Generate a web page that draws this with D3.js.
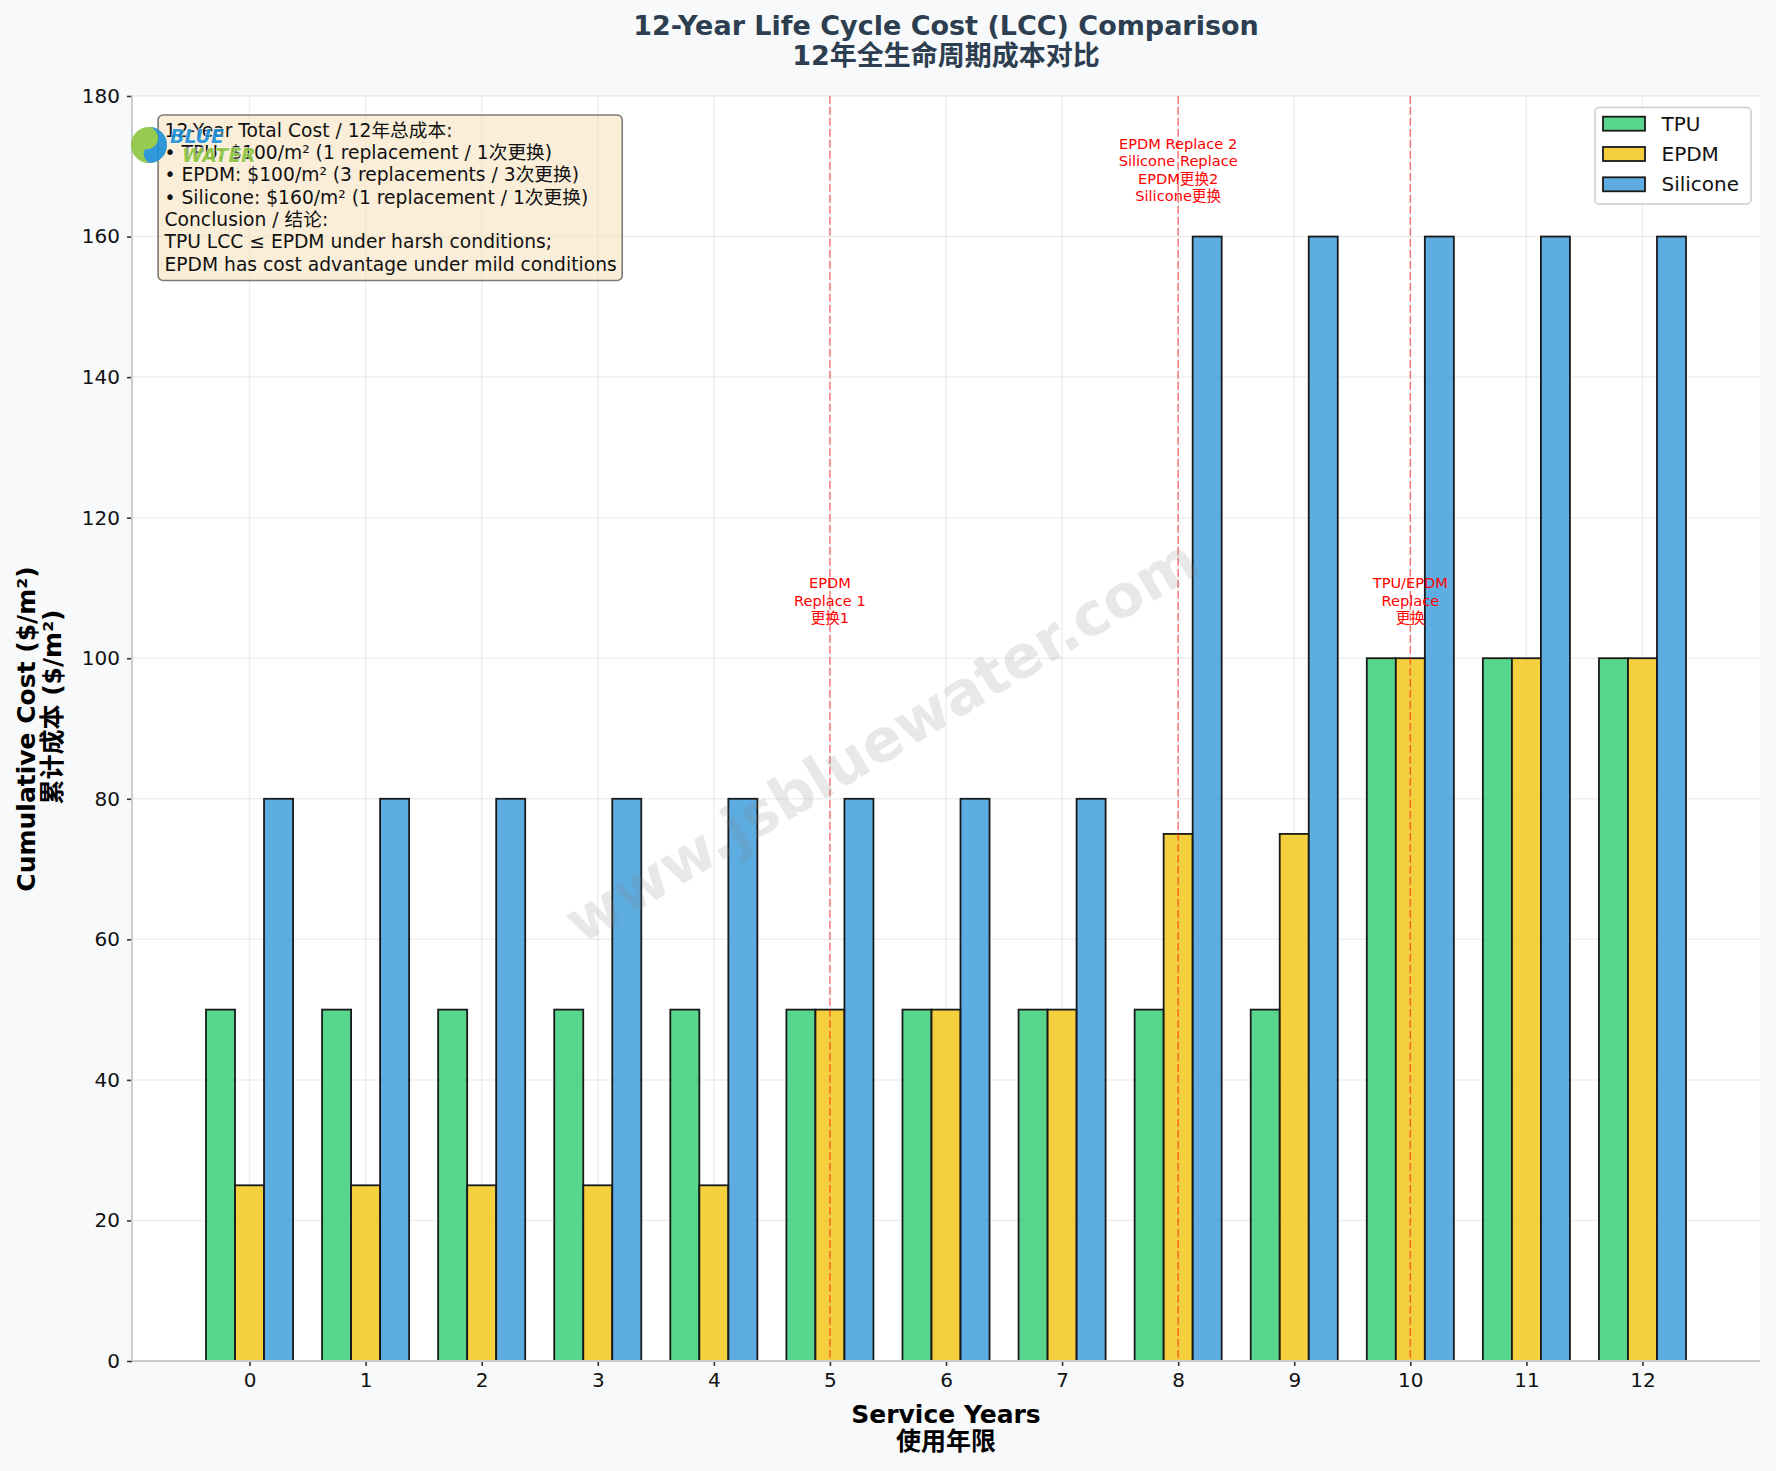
<!DOCTYPE html>
<html>
<head>
<meta charset="utf-8">
<script src="https://cdn.jsdelivr.net/npm/d3@7"></script>
<style>
  html, body { margin: 0; padding: 0; background: #f8f9fa; }
  svg { display: block; }
  text { font-family: "DejaVu Sans", "Noto Sans CJK SC", sans-serif; }
</style>
</head>
<body>
<div id="chart"></div>
<script>
// ---------------- data ----------------
const years = [0, 1, 2, 3, 4, 5, 6, 7, 8, 9, 10, 11, 12];
const seriesNames = ["TPU", "EPDM", "Silicone"];
const tpuCost = [50, 50, 50, 50, 50, 50, 50, 50, 50, 50, 100, 100, 100];
const epdmCost = [25, 25, 25, 25, 25, 50, 50, 50, 75, 75, 100, 100, 100];
const siliconeCost = [80, 80, 80, 80, 80, 80, 80, 80, 160, 160, 160, 160, 160];
const yTicks = [0, 20, 40, 60, 80, 100, 120, 140, 160, 180];
const replaceYears = [5, 8, 10];
const replaceLabelY = [108.2, 169.5, 108.2];
const replaceLabels = [
  ["EPDM", "Replace 1", "更换1"],
  ["EPDM Replace 2", "Silicone Replace", "EPDM更换2", "Silicone更换"],
  ["TPU/EPDM", "Replace", "更换"]
];
const summaryLines = [
  "12-Year Total Cost / 12年总成本:",
  "• TPU: $100/m² (1 replacement / 1次更换)",
  "• EPDM: $100/m² (3 replacements / 3次更换)",
  "• Silicone: $160/m² (1 replacement / 1次更换)",
  "Conclusion / 结论:",
  "TPU LCC ≤ EPDM under harsh conditions;",
  "EPDM has cost advantage under mild conditions"
];
const titleLines = ["12-Year Life Cycle Cost (LCC) Comparison", "12年全生命周期成本对比"];
const xLabelLines = ["Service Years", "使用年限"];
const yLabelLines = ["Cumulative Cost ($/m²)", "累计成本 ($/m²)"];

// ---------------- layout ----------------
const W = 1776, H = 1471;
const plot = { left: 132, right: 1760, top: 96, bottom: 1361 };
const colors = { TPU: "#2ecc71", EPDM: "#f1c40f", Silicone: "#3498db" };
const seriesValues = { TPU: tpuCost, EPDM: epdmCost, Silicone: siliconeCost };
const barW = 0.25;

const svg = d3.select("#chart").append("svg")
  .attr("width", W).attr("height", H)
  .attr("viewBox", `0 0 ${W} ${H}`);

svg.append("rect").attr("width", W).attr("height", H).attr("fill", "#f8f9fa");

const x = d3.scaleLinear().domain([-1.0125, 13.0125]).range([plot.left, plot.right]);
const y = d3.scaleLinear().domain([0, 180]).range([plot.bottom, plot.top]);

// axes background
svg.append("rect")
  .attr("x", plot.left).attr("y", plot.top)
  .attr("width", plot.right - plot.left).attr("height", plot.bottom - plot.top)
  .attr("fill", "#ffffff");

// grid
const grid = svg.append("g");
grid.selectAll("line.gx").data(years).join("line")
  .attr("x1", d => x(d)).attr("x2", d => x(d))
  .attr("y1", plot.top).attr("y2", plot.bottom)
  .attr("stroke", "#b0b0b0").attr("stroke-opacity", 0.2).attr("stroke-width", 1.5);
grid.selectAll("line.gy").data(yTicks).join("line")
  .attr("y1", d => y(d)).attr("y2", d => y(d))
  .attr("x1", plot.left).attr("x2", plot.right)
  .attr("stroke", "#b0b0b0").attr("stroke-opacity", 0.2).attr("stroke-width", 1.5);

// bars
const offsets = { TPU: -0.25, EPDM: 0, Silicone: 0.25 };
seriesNames.forEach(name => {
  svg.append("g").selectAll("rect").data(years).join("rect")
    .attr("x", (d, i) => x(d + offsets[name] - barW / 2))
    .attr("width", x(barW) - x(0))
    .attr("y", (d, i) => y(seriesValues[name][i]))
    .attr("height", (d, i) => y(0) - y(seriesValues[name][i]))
    .attr("fill", colors[name]).attr("fill-opacity", 0.8)
    .attr("stroke", "#1a1a1a").attr("stroke-width", 1.8);
});

// replacement lines
svg.append("g").selectAll("line").data(replaceYears).join("line")
  .attr("x1", d => x(d)).attr("x2", d => x(d))
  .attr("y1", plot.top).attr("y2", plot.bottom)
  .attr("stroke", "red").attr("stroke-opacity", 0.5)
  .attr("stroke-width", 1.5).attr("stroke-dasharray", "7.7,3.3");

// replacement labels
replaceYears.forEach((yr, k) => {
  const lines = replaceLabels[k];
  const lh = 17.5;
  const cy = y(replaceLabelY[k]);
  const firstBase = cy - (lines.length - 1) * lh / 2 + 5;
  const t = svg.append("text").attr("text-anchor", "middle")
    .attr("font-size", 14.6).attr("fill", "red");
  lines.forEach((s, j) => {
    t.append("tspan").attr("x", x(yr)).attr("y", firstBase + j * lh).text(s);
  });
});

// axes
const yAxis = d3.axisLeft(y).tickValues(yTicks).tickSize(5).tickPadding(7).tickFormat(d3.format("d"));
const xAxis = d3.axisBottom(x).tickValues(years).tickSize(5).tickPadding(7).tickFormat(d3.format("d"));
const gy = svg.append("g").attr("transform", `translate(${plot.left},0)`).call(yAxis);
const gx = svg.append("g").attr("transform", `translate(0,${plot.bottom})`).call(xAxis);
[gx, gy].forEach(g => {
  g.select(".domain").remove();
  g.selectAll(".tick line").attr("stroke", "#333").attr("stroke-width", 1.6);
  g.selectAll(".tick text").attr("font-size", 20).attr("fill", "#111")
    .attr("font-family", "DejaVu Sans");
});
// spines
svg.append("line").attr("x1", plot.left).attr("x2", plot.left)
  .attr("y1", plot.top).attr("y2", plot.bottom)
  .attr("stroke", "#cccccc").attr("stroke-width", 2);
svg.append("line").attr("x1", plot.left).attr("x2", plot.right)
  .attr("y1", plot.bottom).attr("y2", plot.bottom)
  .attr("stroke", "#cccccc").attr("stroke-width", 2);

// watermark
svg.append("text")
  .attr("transform", `translate(${x(5.46)},${y(87.7)}) rotate(-31)`)
  .attr("text-anchor", "middle").attr("dominant-baseline", "middle")
  .attr("font-size", 59).attr("font-weight", "bold")
  .attr("fill", "#808080").attr("fill-opacity", 0.18)
  .text("www.jsbluewater.com");

// summary box
const boxX = plot.left + 0.02 * (plot.right - plot.left);
const firstBaseline = 136.7, sLH = 22.3;
const sText = svg.append("text").attr("font-size", 18.7).attr("fill", "#111");
summaryLines.forEach((s, j) => {
  sText.append("tspan").attr("x", boxX).attr("y", firstBaseline + j * sLH).text(s);
});
const bb = sText.node().getBBox();
svg.insert("rect", () => sText.node())
  .attr("x", bb.x - 5.5).attr("y", 115)
  .attr("width", bb.width + 11).attr("height", 280.5 - 115)
  .attr("rx", 5).attr("ry", 5)
  .attr("fill", "#f5deb3").attr("fill-opacity", 0.5)
  .attr("stroke", "#000").attr("stroke-opacity", 0.5).attr("stroke-width", 1.6);

// logo
const logo = svg.append("g").attr("opacity", 0.9);
logo.append("circle").attr("cx", 149).attr("cy", 145).attr("r", 18).attr("fill", "#8cc63f");
logo.append("path")
  .attr("d", "M149,127 A18,18 0 0 1 149,163 A10.5,10.5 0 0 1 145,149 A10.5,10.5 0 0 0 149,127 Z")
  .attr("fill", "#1b8fd8");
logo.append("text").attr("x", 170).attr("y", 143)
  .attr("font-size", 19).attr("font-weight", "bold").attr("font-style", "italic")
  .attr("fill", "#1b8fd8").attr("stroke", "#fff").attr("stroke-width", 0.8)
  .attr("paint-order", "stroke").text("BLUE");
logo.append("text").attr("x", 182).attr("y", 162)
  .attr("font-size", 19).attr("font-weight", "bold").attr("font-style", "italic")
  .attr("fill", "#8cc63f").attr("stroke", "#fff").attr("stroke-width", 0.8)
  .attr("paint-order", "stroke").text("WATER");

// legend
const lg = svg.append("g");
lg.append("rect").attr("x", 1595).attr("y", 107.5).attr("width", 156).attr("height", 96.5)
  .attr("rx", 4).attr("fill", "#ffffff").attr("fill-opacity", 0.8)
  .attr("stroke", "#cccccc").attr("stroke-width", 1.5);
seriesNames.forEach((name, i) => {
  const cy = 123.7 + i * 30.3;
  lg.append("rect").attr("x", 1603).attr("y", cy - 7).attr("width", 42).attr("height", 14)
    .attr("fill", colors[name]).attr("fill-opacity", 0.8)
    .attr("stroke", "#1a1a1a").attr("stroke-width", 1.8);
  lg.append("text").attr("x", 1661.5).attr("y", cy + 7)
    .attr("font-size", 20).attr("fill", "#111").text(name);
});

// title
const tt = svg.append("text").attr("text-anchor", "middle")
  .attr("font-size", 27).attr("font-weight", "bold").attr("fill", "#2c3e50");
tt.append("tspan").attr("x", (plot.left + plot.right) / 2).attr("y", 35).text(titleLines[0]);
tt.append("tspan").attr("x", (plot.left + plot.right) / 2).attr("y", 65).text(titleLines[1]);

// x label
const xl = svg.append("text").attr("text-anchor", "middle")
  .attr("font-size", 25).attr("font-weight", "bold").attr("fill", "#000");
xl.append("tspan").attr("x", (plot.left + plot.right) / 2).attr("y", 1423).text(xLabelLines[0]);
xl.append("tspan").attr("x", (plot.left + plot.right) / 2).attr("y", 1450).text(xLabelLines[1]);

// y label
svg.append("text").attr("text-anchor", "middle")
  .attr("transform", `translate(35,729) rotate(-90)`)
  .attr("font-size", 25).attr("font-weight", "bold").attr("fill", "#000")
  .text(yLabelLines[0]);
svg.append("text").attr("text-anchor", "middle")
  .attr("transform", `translate(61,707) rotate(-90)`)
  .attr("font-size", 25).attr("font-weight", "bold").attr("fill", "#000")
  .text(yLabelLines[1]);
</script>
</body>
</html>
